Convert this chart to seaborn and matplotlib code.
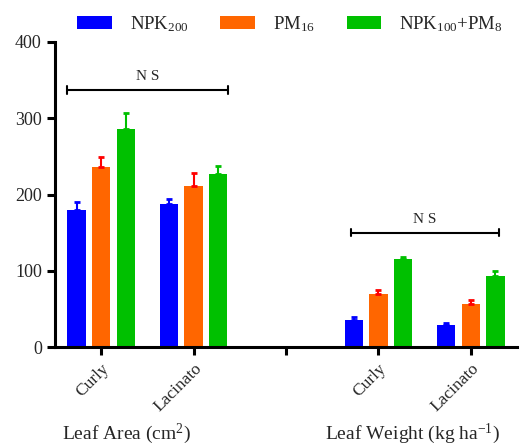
import matplotlib
matplotlib.use("Agg")
import matplotlib.pyplot as plt
import seaborn as sns
import pandas as pd
import numpy as np
from matplotlib.patches import Patch

# ---- data ----
groups = ["LA_Curly", "LA_Lacinato", "gap", "LW_Curly", "LW_Lacinato"]
tick_labels = ["Curly", "Lacinato", "", "Curly", "Lacinato"]
treatments = ["NPK200", "PM16", "NPK100+PM8"]
legend_labels = [r"NPK$_{200}$", r"PM$_{16}$", r"NPK$_{100}$+PM$_{8}$"]
npk200 = [180, 187, None, 36, 29]
pm16 = [236, 211, None, 70, 57]
mix = [286, 227, None, 115, 93]
npk200_err = [10, 7, None, 3, 2]
pm16_err = [13, 17, None, 5, 4]
mix_err = [21, 11, None, 3.5, 6.5]
ns_spans = [(-0.37, 1.37, 337), (2.70, 4.30, 150)]
group_titles = [r"Leaf Area (cm$^{2}$)", r"Leaf Weight (kg ha$^{-1}$)"]

bar_colors = ["#0000FF", "#FF6600", "#00C000"]
err_colors = ["#0000FF", "#FF0000", "#00C000"]

rows = []
for vals, errs, t in [(npk200, npk200_err, treatments[0]), (pm16, pm16_err, treatments[1]), (mix, mix_err, treatments[2])]:
    for g, v, e in zip(groups, vals, errs):
        if v is not None:
            rows.append({"group": g, "treatment": t, "value": v, "err": e})
df = pd.DataFrame(rows)

sns.set_style("white")
plt.rcParams["font.family"] = ["Liberation Serif", "DejaVu Serif"]
plt.rcParams["mathtext.fontset"] = "custom"
plt.rcParams["mathtext.rm"] = "Liberation Serif"
plt.rcParams["mathtext.it"] = "Liberation Serif:italic"

fig = plt.figure(figsize=(5.23, 4.46), dpi=100)
ax = fig.add_axes([55/523, 1-347/446, (517-55)/523, (347-42)/446])

sns.barplot(data=df, x="group", y="value", hue="treatment", order=groups,
            hue_order=treatments, palette=bar_colors, width=0.8, gap=0.25,
            errorbar=None, ax=ax, legend=False, linewidth=0, saturation=1)

# error bars (upper only), centred on seaborn's bars
for ti, t in enumerate(treatments):
    sub = df[df.treatment == t]
    cont = ax.containers[ti]
    for patch, (_, r) in zip(cont.patches, sub.iterrows()):
        cx = patch.get_x() + patch.get_width() / 2
        top = patch.get_height()
        ax.errorbar([cx], [top], yerr=[[0], [r.err]], fmt="none",
                    ecolor=err_colors[ti], elinewidth=1.5, capsize=2.5, capthick=2)

# NS brackets
for x0, x1, y in ns_spans:
    ax.plot([x0, x1], [y, y], color="black", lw=1.5)
    ax.plot([x0, x0], [y - 5, y + 5], color="black", lw=1.5)
    ax.plot([x1, x1], [y - 5, y + 5], color="black", lw=1.5)
    ax.text((x0 + x1) / 2, y + 9, "N S", ha="center", va="bottom", fontsize=11)

ax.set_ylim(0, 400)
ax.set_xlim(-0.5, 4.5)
ax.set_yticks([0, 100, 200, 300, 400])
ax.set_yticklabels(["0", "100", "200", "300", "400"], fontsize=13)
ax.set_xticks(range(len(groups)))
ax.set_xticklabels(tick_labels, rotation=45, ha="right", rotation_mode="anchor", fontsize=12.5)
ax.set_xlabel("")
ax.set_ylabel("")
for s in ["top", "right"]:
    ax.spines[s].set_visible(False)
for s in ["left", "bottom"]:
    ax.spines[s].set_linewidth(2.2)
    ax.spines[s].set_color("black")
ax.tick_params(axis="both", direction="out", length=6, width=2.2, color="black", left=True, bottom=True)

handles = [Patch(facecolor=c, edgecolor="none") for c in bar_colors]
fig.legend(handles, legend_labels, loc="center left", bbox_to_anchor=(77/523, 1-24/446),
           ncol=3, frameon=False, fontsize=13.5, handlelength=1.85, handleheight=0.65,
           columnspacing=1.7, handletextpad=0.95, borderpad=0, borderaxespad=0)

fig.text(62/523, 1-439/446, group_titles[0], ha="left", va="baseline", fontsize=14)
fig.text(325/523, 1-439/446, group_titles[1], ha="left", va="baseline", fontsize=14)

fig.savefig("out.png", dpi=100)
